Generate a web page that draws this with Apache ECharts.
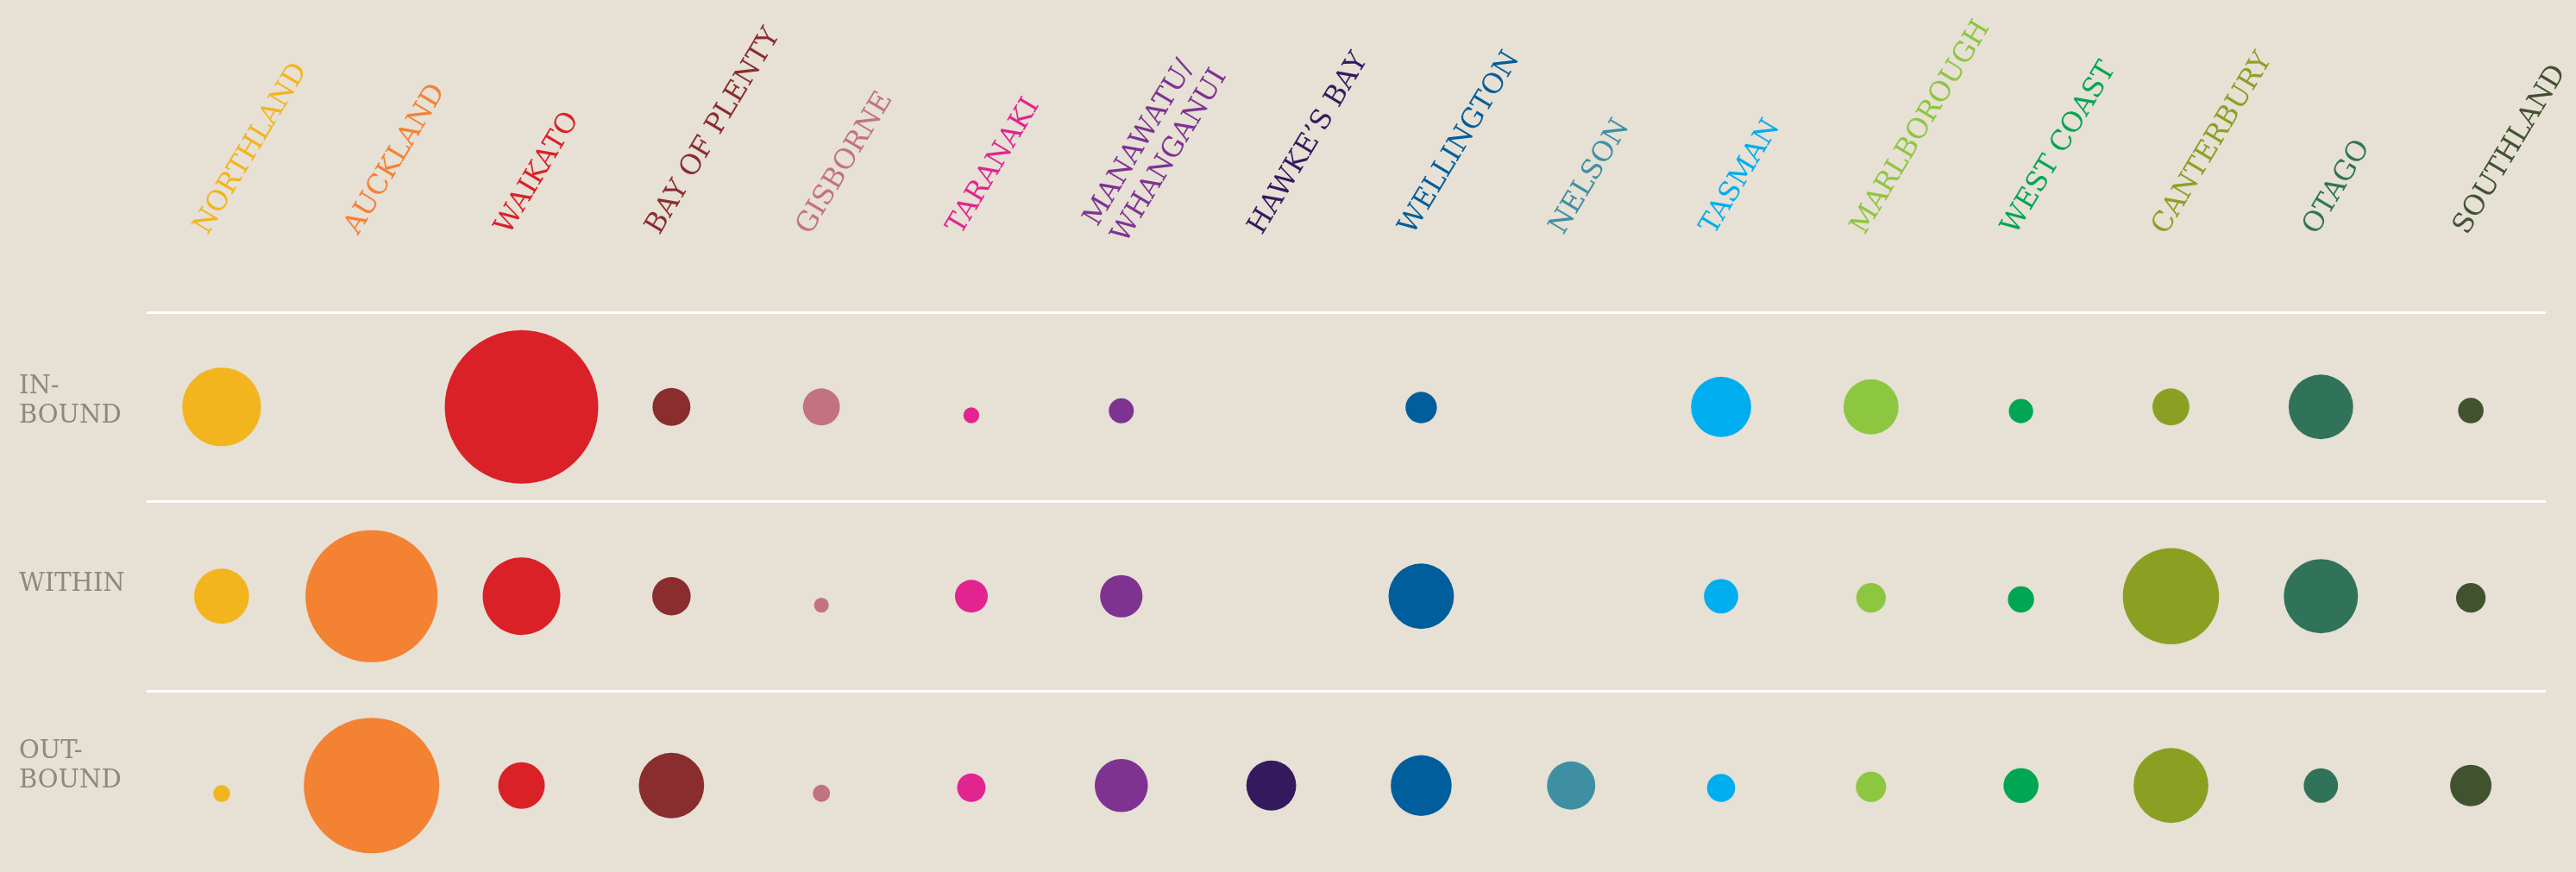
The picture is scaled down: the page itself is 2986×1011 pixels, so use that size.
<!DOCTYPE html>
<html>
<head>
<meta charset="utf-8">
<title>Regional flows</title>
<script src="https://cdn.jsdelivr.net/npm/echarts@6/dist/echarts.min.js"></script>
<style>
  html, body { margin: 0; padding: 0; background: #e6e0d5; }
  #chart { width: 2986px; height: 1011px; }
</style>
</head>
<body>
<div id="chart"></div>
<script>
// regions across the top, flow types down the side
const regions = [
  'NORTHLAND', 'AUCKLAND', 'WAIKATO', 'BAY OF PLENTY', 'GISBORNE', 'TARANAKI',
  'MANAWATU/\nWHANGANUI', 'HAWKE\u2019S BAY', 'WELLINGTON', 'NELSON', 'TASMAN',
  'MARLBOROUGH', 'WEST COAST', 'CANTERBURY', 'OTAGO', 'SOUTHLAND'
]
const flows = ['IN-\nBOUND', 'WITHIN', 'OUT-\nBOUND']

// circle area is proportional to the value (0 = no circle)
const inbound  = [2080, 0, 7920, 484, 458, 85, 210, 0, 331, 0, 1218, 1018, 199, 458, 1399, 219]
const within   = [1018, 5868, 2025, 497, 74, 361, 605, 0, 1436, 0, 396, 292, 231, 3114, 1849, 292]
const outbound = [96, 6162, 729, 1436, 100, 272, 949, 835, 1246, 784, 266, 306, 412, 1884, 396, 576]

const regionColors = [
  '#f2b51e', '#f38233', '#da2128', '#8a2d2e', '#c27283', '#e22490',
  '#7e3391', '#331a5e', '#005e9c', '#3f8fa3', '#00aeef',
  '#8dc63f', '#00a651', '#8ba023', '#30735a', '#41522f'
]

const chart = echarts.init(document.getElementById('chart'))

const radius = v => Math.sqrt(v)

// small dots sit a little lower in their row
const points = []
;[inbound, within, outbound].forEach((row, r) => {
  row.forEach((v, c) => {
    if (!v) return
    points.push({
      value: [c, r, v],
      symbolOffset: [0, Math.max(0, 19 - radius(v))]
    })
  })
})

const labelFont = 'DejaVu Serif'

const option = {
  backgroundColor: '#e6e0d5',
  animation: false,
  grid: [
    { left: 170, right: 35, top: 362, height: 658.5, outerBoundsMode: 'none', containLabel: false },
    // labels only
    { left: 146, right: 46, top: 360, height: 634.5, outerBoundsMode: 'none', containLabel: false }
  ],
  xAxis: [
    {
      gridIndex: 0,
      type: 'category',
      data: regions,
      position: 'top',
      axisLine: { show: false },
      axisTick: { show: false },
      axisLabel: { show: false },
      splitLine: { show: false }
    },
    {
      gridIndex: 1,
      type: 'category',
      data: regions,
      position: 'top',
      axisLine: { show: false },
      axisTick: { show: false },
      splitLine: { show: false },
      axisLabel: {
        interval: 0,
        hideOverlap: false,
        rotate: -59,
        margin: 91,
        align: 'left',
        verticalAlign: 'middle',
        fontFamily: labelFont,
        fontSize: 32,
        lineHeight: 38,
        color: (val, idx) => regionColors[idx]
      }
    }
  ],
  yAxis: [
    {
      gridIndex: 0,
      type: 'category',
      data: flows,
      inverse: true,
      axisLine: { show: false },
      axisTick: { show: false },
      axisLabel: { show: false },
      splitLine: {
        show: true,
        interval: 0,
        lineStyle: { color: '#ffffff', width: 3 }
      }
    },
    {
      gridIndex: 1,
      type: 'category',
      data: flows,
      inverse: true,
      axisLine: { show: false },
      axisTick: { show: false },
      splitLine: { show: false },
      axisLabel: {
        interval: 0,
        margin: 124,
        align: 'left',
        verticalAlign: 'middle',
        fontFamily: labelFont,
        fontSize: 29,
        lineHeight: 34,
        color: '#908878'
      }
    }
  ],
  series: [
    {
      type: 'scatter',
      xAxisIndex: 0,
      yAxisIndex: 0,
      data: points,
      symbol: 'circle',
      symbolSize: d => 2 * radius(d[2]),
      itemStyle: {
        opacity: 1,
        color: p => regionColors[p.value[0]]
      },
      z: 3
    }
  ]
}

chart.setOption(option)
</script>
</body>
</html>
